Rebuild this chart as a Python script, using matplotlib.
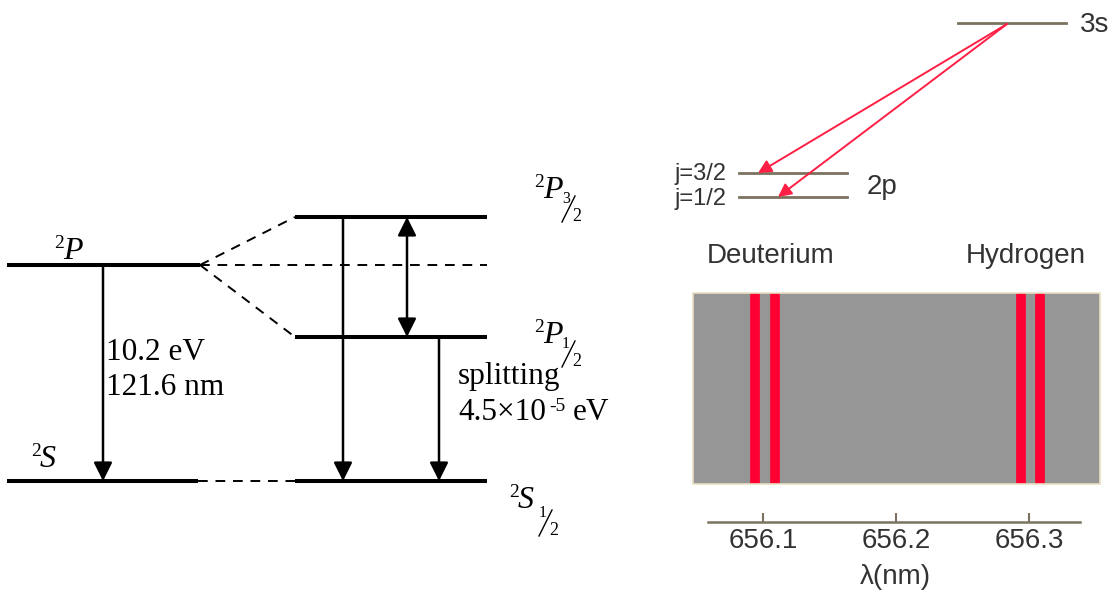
import matplotlib.pyplot as plt
from matplotlib.patches import Rectangle

# left: hydrogen n=2 -> n=1, with and without fine structure
coarse_terms = ['P', 'S']
fine_terms = [('P', '3', '2'), ('P', '1', '2'), ('S', '1', '2')]
lyman_energy = '10.2 eV'
lyman_wavelength = '121.6 nm'
split_label = 'splitting'
split_mant, split_exp, split_unit = '4.5×10', '-5', 'eV'

# right: Balmer-alpha fine structure lines (nm)
deut_lines = [656.094, 656.109]
hyd_lines = [656.294, 656.308]
tick_vals = [656.1, 656.2, 656.3]
j_labels = ['j=3/2', 'j=1/2']

SERIF = 'Liberation Serif'
SANS = 'Liberation Sans'

fig = plt.figure(figsize=(11.12, 5.97), dpi=100)
ax = fig.add_axes([0, 0, 1, 1])
ax.set_xlim(0, 1112)
ax.set_ylim(597, 0)
ax.axis('off')


def term(x, y, letter, frac=None):
    # ^2 L_{a/b} with a slashed fraction
    ax.text(x - 1, y - 11, '2', fontsize=14, family=SERIF, va='baseline')
    ax.text(x + 8, y, letter, fontsize=23, style='italic', family=SERIF, va='baseline')
    if frac:
        dx, dy = (0, 0) if letter == 'P' else (2, 4)
        ax.text(x + 27 + dx, y + 5 + dy, frac[0], fontsize=11.5, family=SERIF, va='baseline')
        ax.plot([x + 27 + dx, x + 40 + dx], [y + 24 + dy, y - 2 + dy], color='black', lw=1)
        ax.text(x + 37 + dx, y + 23 + dy, frac[1], fontsize=13, family=SERIF, va='baseline')


lw_lev = 2.9
# coarse levels
ax.plot([7, 200], [265, 265], color='black', lw=lw_lev, solid_capstyle='butt')
ax.plot([7, 198], [481, 481], color='black', lw=lw_lev, solid_capstyle='butt')
term(55, 259, coarse_terms[0])
term(32, 467, coarse_terms[1])

# fine levels
for yy in [217, 337, 481]:
    ax.plot([295, 487], [yy, yy], color='black', lw=lw_lev, solid_capstyle='butt')
term(535, 198, fine_terms[0][0], frac=fine_terms[0][1:])
term(535, 343, fine_terms[1][0], frac=fine_terms[1][1:])
term(510, 508, fine_terms[2][0], frac=fine_terms[2][1:])

# dashed connectors
dash = dict(color='black', lw=1.4, ls=(0, (5, 4)))
ax.plot([200, 295], [265, 217], **dash)
ax.plot([200, 295], [265, 337], **dash)
ax.plot([200, 487], [265, 265], **dash)
ax.plot([198, 295], [481, 481], **dash)

# transitions
arr = dict(arrowstyle='-|>', color='black', lw=1.8, mutation_scale=28,
           shrinkA=0, shrinkB=0)
ax.annotate('', xy=(103, 481), xytext=(103, 265), arrowprops=arr)
ax.annotate('', xy=(343, 481), xytext=(343, 217), arrowprops=arr)
ax.annotate('', xy=(439, 481), xytext=(439, 337), arrowprops=arr)
ax.annotate('', xy=(407, 337), xytext=(407, 217),
            arrowprops=dict(arr, arrowstyle='<|-|>'))

ax.text(106, 360, lyman_energy, fontsize=22.5, family=SERIF, va='baseline')
ax.text(106, 395, lyman_wavelength, fontsize=22.5, family=SERIF, va='baseline')
ax.text(458, 384, split_label, fontsize=22.5, family=SERIF, va='baseline')
ax.text(458, 420, split_mant, fontsize=22.5, family=SERIF, va='baseline')
ax.text(549, 411, split_exp, fontsize=14, family=SERIF, va='baseline')
ax.text(573, 420, split_unit, fontsize=22.5, family=SERIF, va='baseline')

# right top: 3s -> 2p
lev_col = '#7b735f'
txt_col = '#333333'
red = '#ff1f45'
ax.plot([958, 1066], [23, 23], color=lev_col, lw=2)
ax.plot([739, 847], [173, 173], color=lev_col, lw=2)
ax.plot([739, 847], [197, 197], color=lev_col, lw=2)
ax.text(1080, 25, '3s', fontsize=20, family=SANS, color=txt_col, va='center')
ax.text(726, 174, j_labels[0], fontsize=17, family=SANS, color=txt_col, va='center', ha='right')
ax.text(726, 199, j_labels[1], fontsize=17, family=SANS, color=txt_col, va='center', ha='right')
ax.text(867, 187, '2p', fontsize=20, family=SANS, color=txt_col, va='center')
red_arr = dict(arrowstyle='-|>', color=red, lw=1.4, mutation_scale=20,
               shrinkA=0, shrinkB=0)
ax.annotate('', xy=(758, 173), xytext=(1007, 24), arrowprops=red_arr)
ax.annotate('', xy=(778, 197), xytext=(1007, 24), arrowprops=red_arr)

ax.text(771, 256, 'Deuterium', fontsize=20, family=SANS, color=txt_col, ha='center', va='center')
ax.text(1026, 256, 'Hydrogen', fontsize=20, family=SANS, color=txt_col, ha='center', va='center')
ax.text(895, 577, 'λ(nm)', fontsize=20, family=SANS, color=txt_col, ha='center', va='center')

# spectrum strip
ax2 = fig.add_axes([693 / 1112, (597 - 484) / 597, 407 / 1112, 191 / 597])
ax2.set_xlim(656.0474, 656.3534)
ax2.set_ylim(0, 1)
ax2.set_facecolor('#969696')
for w in deut_lines + hyd_lines:
    ax2.axvline(w, color='#ff0033', lw=7)
ax2.add_patch(Rectangle((0, 0), 1, 1, transform=ax2.transAxes, fill=False,
                        edgecolor='#eadfc4', lw=1.2, zorder=5, clip_on=False))
for s in ['top', 'left', 'right']:
    ax2.spines[s].set_visible(False)
ax2.spines['bottom'].set_position(('outward', 38 * 0.72))
ax2.spines['bottom'].set_bounds(656.0587, 656.3383)
ax2.spines['bottom'].set_color(lev_col)
ax2.spines['bottom'].set_linewidth(1.8)
ax2.set_yticks([])
ax2.set_xticks(tick_vals)
ax2.set_xticklabels([f'{t:.1f}' for t in tick_vals], family=SANS)
ax2.tick_params(axis='x', direction='in', length=6.5, width=1.5, color=lev_col,
                labelsize=20, labelcolor=txt_col, pad=4)

fig.savefig('out.png', dpi=100)
